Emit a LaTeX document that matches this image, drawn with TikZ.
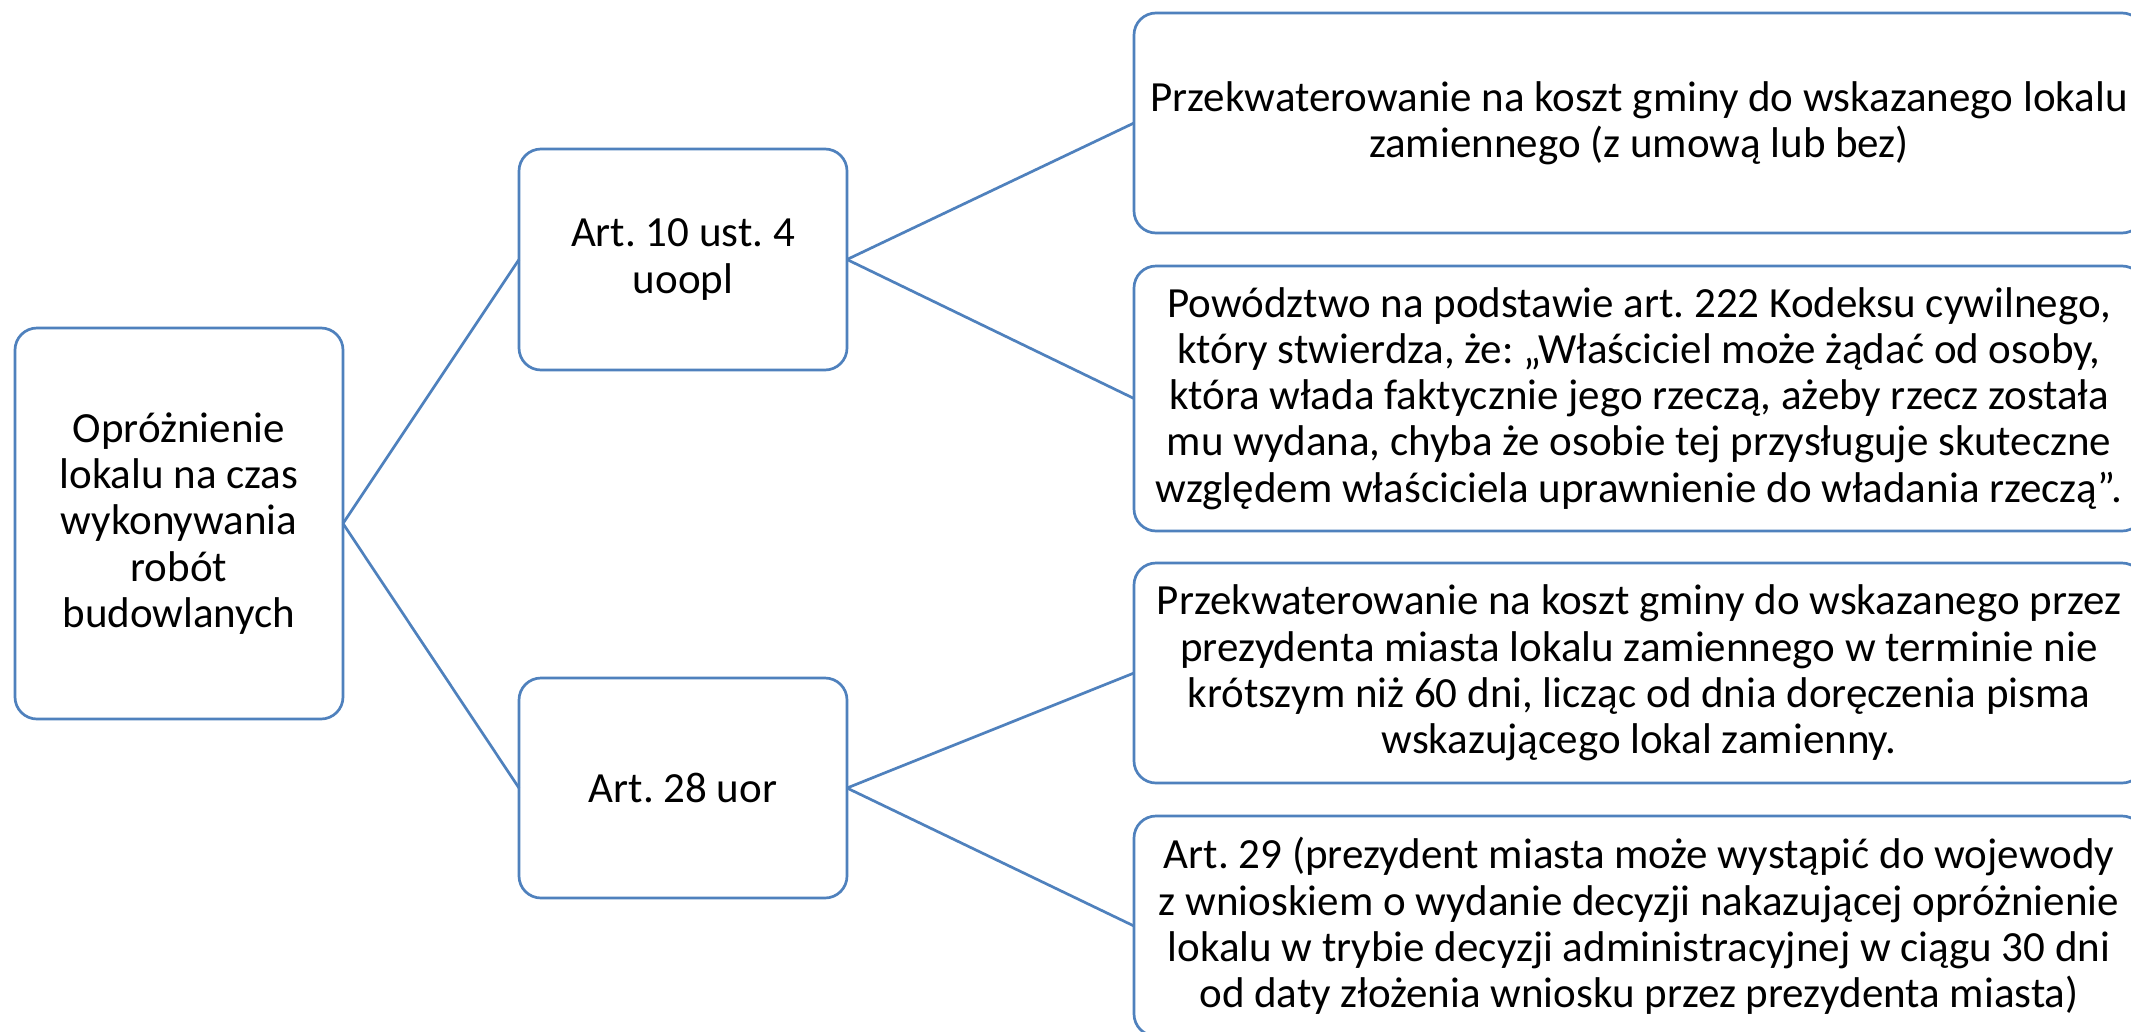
\documentclass[tikz,border=0pt]{standalone}
\usepackage{fontspec}
\setmainfont{Carlito}
\definecolor{bl}{RGB}{79,129,189}
\begin{document}
\frenchspacing
\begin{tikzpicture}[x=1pt,y=-1pt,
  box/.style={draw=bl, line width=2.7pt, rounded corners=22pt, inner sep=0pt, outer sep=0pt,
    align=center, font=\fontsize{43}{46.2}\selectfont, text=black},
  conn/.style={draw=bl, line width=2.7pt}]
\useasboundingbox (0,0) rectangle (2131,1031);
\fill[white] (0,0) rectangle (2131,1031);
\node[box, minimum width=328pt, minimum height=391pt] (L) at (179,523.5)
  {Opróżnienie\\lokalu na czas\\wykonywania\\robót\\budowlanych};
\node[box, minimum width=328pt, minimum height=221pt] (M1) at (683,259.5)
  {Art. 10 ust. 4\\uoopl};
\node[box, minimum width=328pt, minimum height=220pt] (M2) at (683,788)
  {Art. 28 uor};
\node[box, minimum width=1010pt, minimum height=220pt] (R1) at (1639,123)
  {Przekwaterowanie na koszt gminy do wskazanego lokalu\\zamiennego (z umową lub bez)};
\node[box, minimum width=1010pt, minimum height=265pt] (R2) at (1639,398.5)
  {Powództwo na podstawie art. 222 Kodeksu cywilnego,\\który stwierdza, że: „Właściciel może żądać od osoby,\\która włada faktycznie jego rzeczą, ażeby rzecz została\\mu wydana, chyba że osobie tej przysługuje skuteczne\\względem właściciela uprawnienie do władania rzeczą”.};
\node[box, minimum width=1010pt, minimum height=220pt] (R3) at (1639,673)
  {Przekwaterowanie na koszt gminy do wskazanego przez\\prezydenta miasta lokalu zamiennego w terminie nie\\krótszym niż 60 dni, licząc od dnia doręczenia pisma\\wskazującego lokal zamienny.};
\node[box, minimum width=1010pt, minimum height=220pt] (R4) at (1639,926)
  {Art. 29 (prezydent miasta może wystąpić do wojewody\\z wnioskiem o wydanie decyzji nakazującej opróżnienie\\lokalu w trybie decyzji administracyjnej w ciągu 30 dni\\od daty złożenia wniosku przez prezydenta miasta)};
\draw[conn] (L.east) -- (M1.west);
\draw[conn] (L.east) -- (M2.west);
\draw[conn] (M1.east) -- (R1.west);
\draw[conn] (M1.east) -- (R2.west);
\draw[conn] (M2.east) -- (R3.west);
\draw[conn] (M2.east) -- (R4.west);
\end{tikzpicture}
\end{document}
